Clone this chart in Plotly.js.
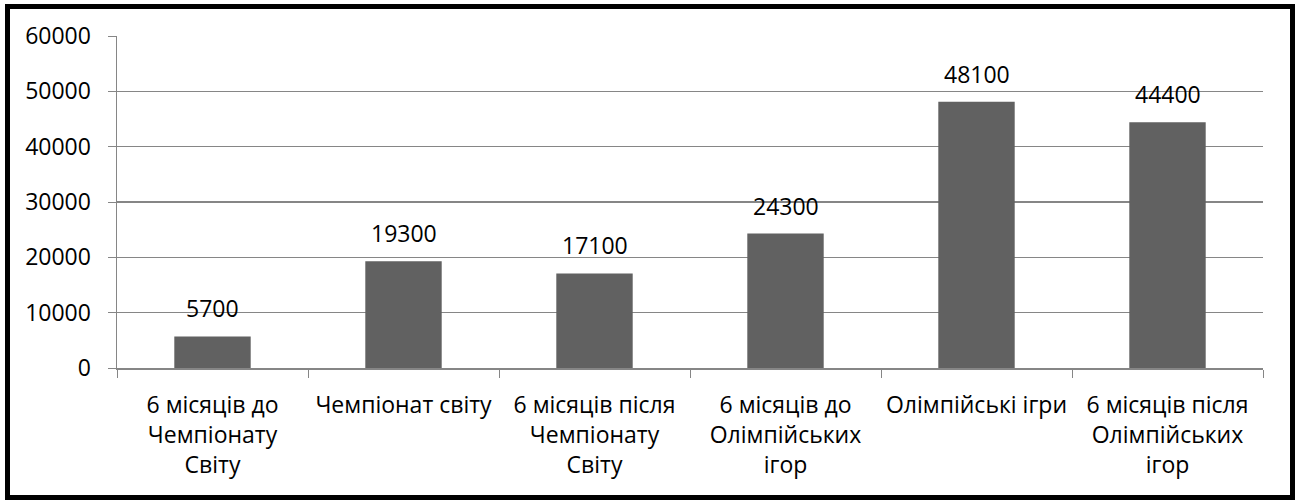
<!DOCTYPE html>
<html>
<head>
<meta charset="utf-8">
<script src="https://cdn.plot.ly/plotly-3.0.1.min.js"></script>
<style>
html,body{margin:0;padding:0;background:#fff;}
#wrap{position:relative;width:1295px;height:500px;}
#chart{position:absolute;left:0;top:0;width:1295px;height:500px;}
#frame{position:absolute;left:5px;top:4px;width:1290px;height:496px;border:5px solid #000;box-sizing:border-box;pointer-events:none;}
</style>
</head>
<body>
<div id="wrap"><div id="chart"></div><div id="frame"></div></div>
<script>
var categories = ["6 місяців до Чемпіонату Світу", "Чемпіонат світу", "6 місяців після Чемпіонату Світу", "6 місяців до Олімпійських ігор", "Олімпійські ігри", "6 місяців після Олімпійських ігор"];
var tickLabels = ["6 місяців до<br>Чемпіонату<br>Світу", "Чемпіонат світу", "6 місяців після<br>Чемпіонату<br>Світу", "6 місяців до<br>Олімпійських<br>ігор", "Олімпійські ігри", "6 місяців після<br>Олімпійських<br>ігор"];
var values = [5700, 19300, 17100, 24300, 48100, 44400];
var yTicks = [0, 10000, 20000, 30000, 40000, 50000, 60000];

var FONT = "Open Sans, Noto Sans, sans-serif";
var FS = 23;
var trace = {
  type: "bar",
  x: categories,
  y: values,
  marker: {color: "#616161"},
  hoverinfo: "skip"
};
var annotations = categories.map(function(c, i){
  return {x: c, y: values[i], xref: "x", yref: "y", text: String(values[i]), showarrow: false, yshift: 28, font: {family: FONT, size: FS, color: "#000"}};
});
var layout = {
  width: 1295, height: 500,
  margin: {l: 117, r: 32, t: 36, b: 132},
  paper_bgcolor: "#fff", plot_bgcolor: "#fff",
  bargap: 0.6,
  showlegend: false,
  font: {family: FONT, size: FS, color: "#000"},
  xaxis: {
    type: "category",
    tickvals: categories, ticktext: tickLabels,
    ticks: "outside", tickson: "boundaries", ticklen: 8, tickcolor: "#868686",
    showline: true, linecolor: "#868686", linewidth: 1.5,
    showgrid: false, tickangle: 0,
    ticklabelstandoff: 16,
    tickfont: {family: FONT, size: FS, color: "#000"}
  },
  yaxis: {
    range: [0, 60000], tickvals: yTicks, ticktext: yTicks.map(String),
    ticks: "outside", ticklen: 8, tickcolor: "#868686",
    showline: true, linecolor: "#868686", linewidth: 1.5,
    showgrid: true, gridcolor: "#868686", gridwidth: 1.5,
    zeroline: false,
    ticklabelstandoff: 12,
    tickfont: {family: FONT, size: FS, color: "#000"}
  },
  annotations: annotations
};
Plotly.newPlot("chart", [trace], layout, {displayModeBar: false, staticPlot: true});
</script>
</body>
</html>
